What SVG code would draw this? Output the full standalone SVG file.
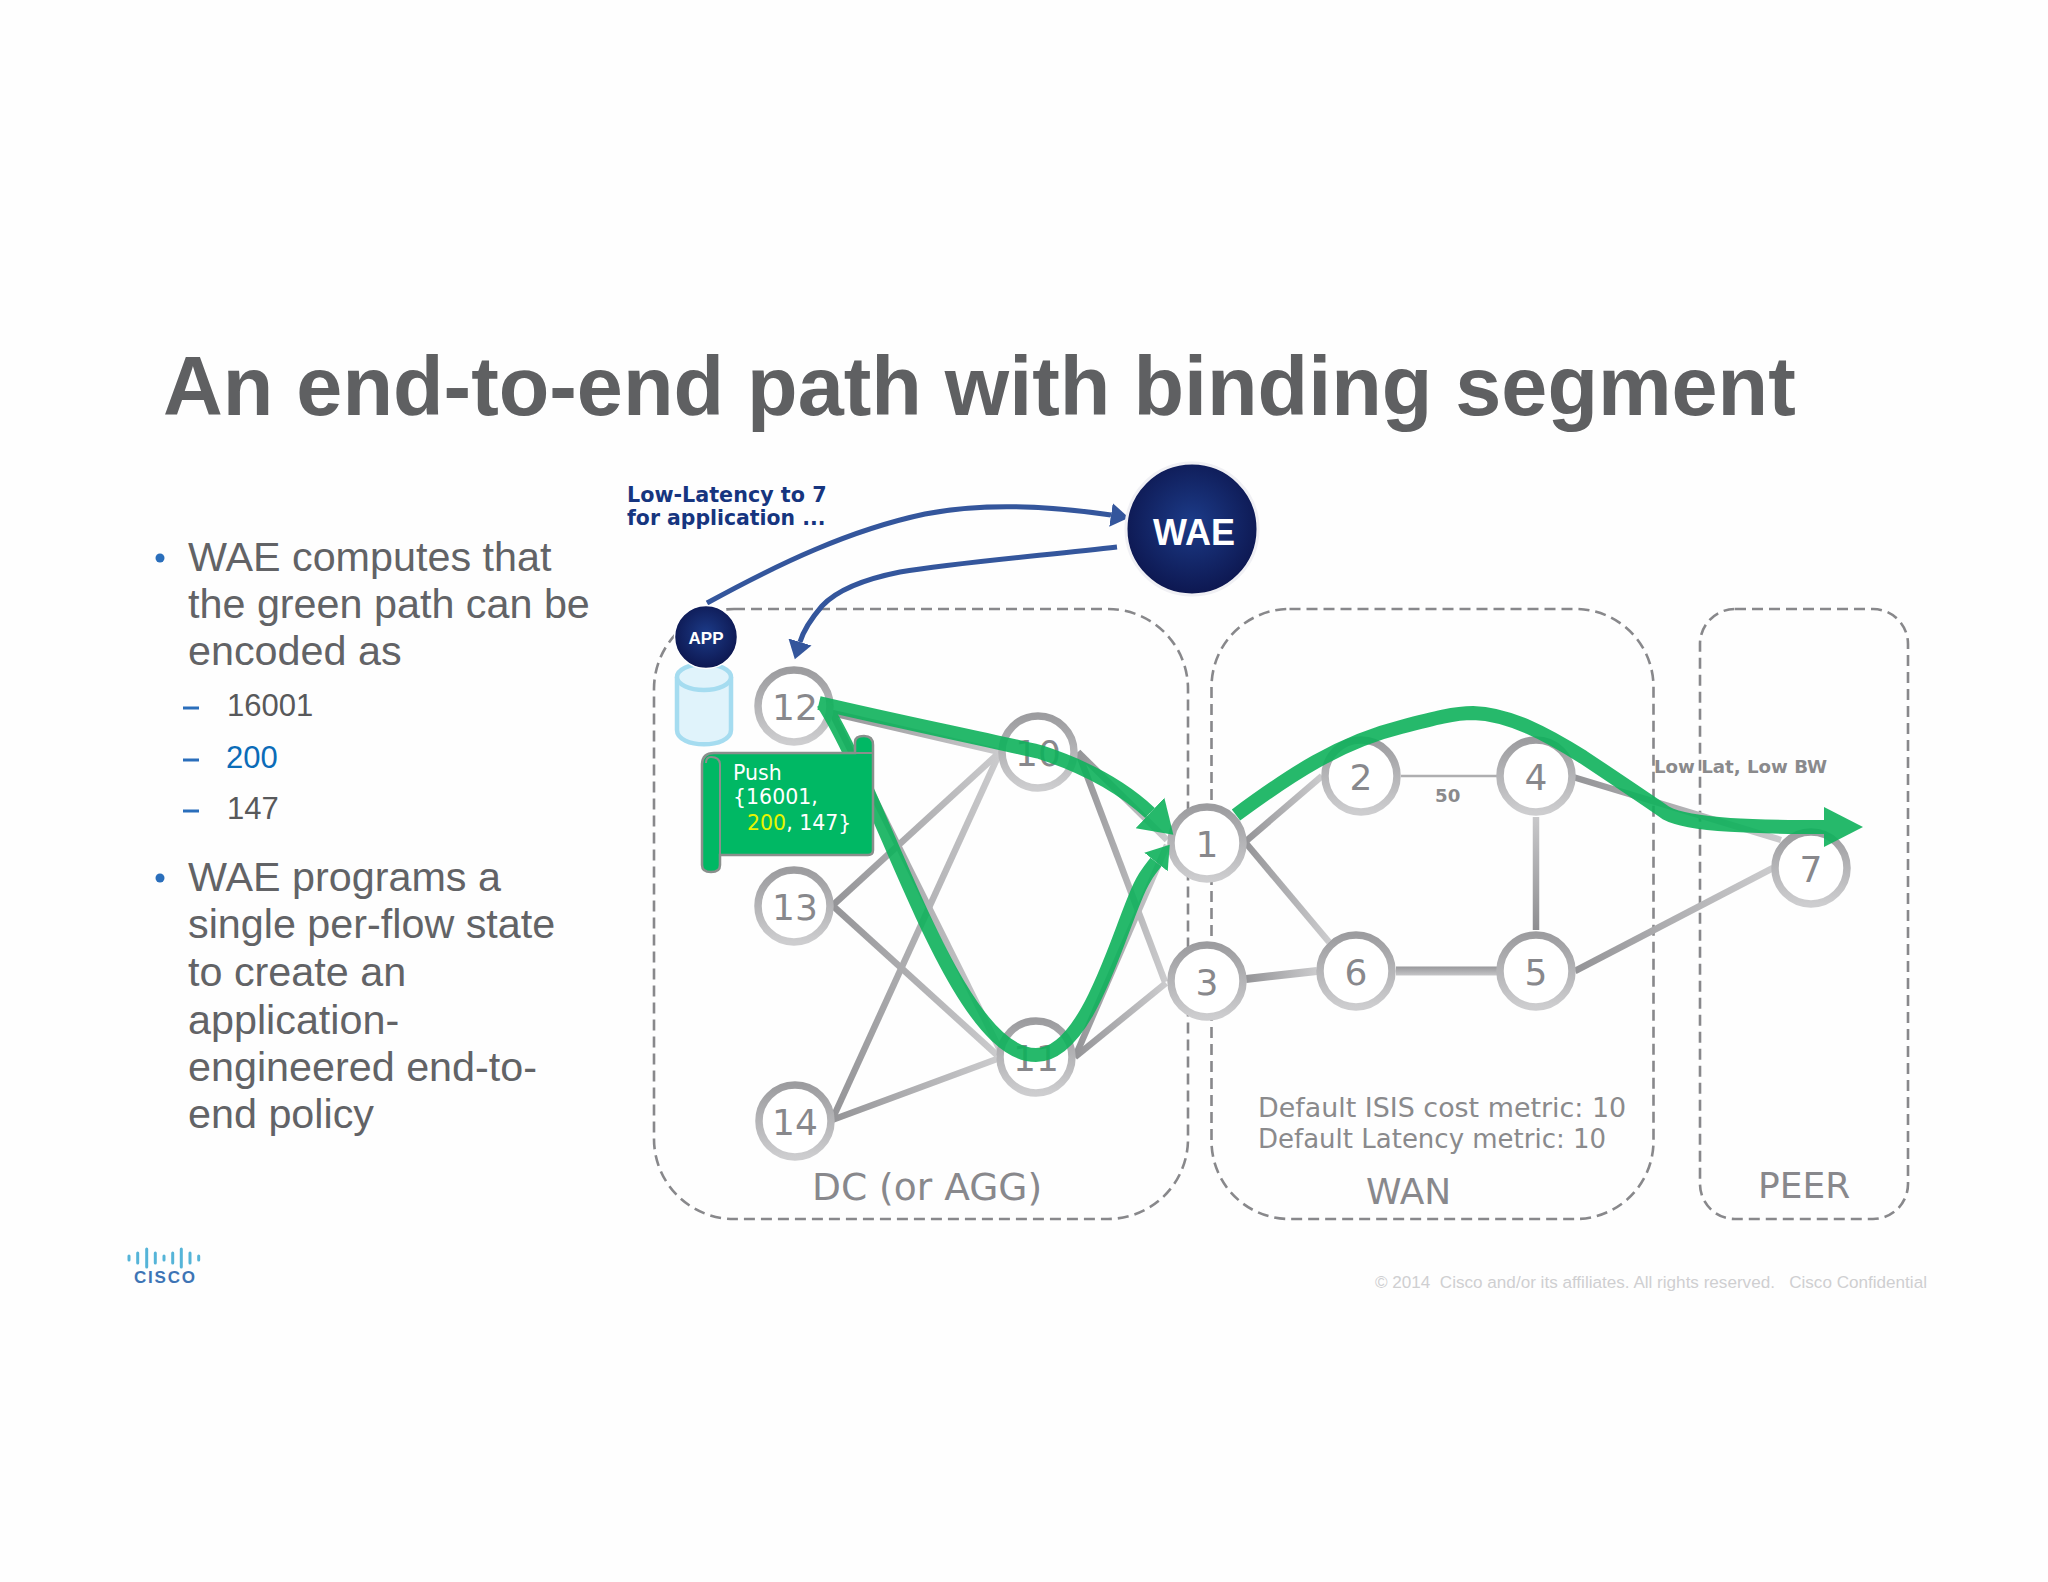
<svg xmlns="http://www.w3.org/2000/svg" width="2048" height="1582" viewBox="0 0 2048 1582">
<style>
text{font-family:"Liberation Sans",Arial,sans-serif}
.dv{font-family:"DejaVu Sans",Verdana,sans-serif}
.body{font-size:41.3px;fill:#626366}
.sub{font-size:31px;fill:#58595b}
.dash{stroke:#2a6ebb;stroke-width:3}
.bul{fill:#2a6ebb}
.zone{fill:none;stroke:#88888b;stroke-width:2.6;stroke-dasharray:11 6}
.zlabel{font-size:36px;fill:#88888c}
.ring{fill:#fff;stroke:url(#ringG);stroke-width:7.5}
.num{font-size:36px;fill:#88888c;text-anchor:middle}
.link{fill:none;stroke:url(#linkG);stroke-width:6.5}
.blue{fill:none;stroke:#34569c;stroke-width:5}
.green{fill:none;stroke:#0fb25c;stroke-width:14}
.note{font-size:26px;fill:#8a8a8c}
.small{font-size:18.200px;font-weight:bold;fill:#8a8a8c}
.push{font-size:20.5px;fill:#fff}
.bar{stroke:#55b4d8;stroke-width:3;stroke-linecap:round}
</style>
<defs>
<linearGradient id="ringG" x1="0" y1="0" x2="0" y2="1"><stop offset="0" stop-color="#9c9c9f"/><stop offset="1" stop-color="#cdcdcf"/></linearGradient>
<linearGradient id="linkG" x1="0" y1="0" x2="1" y2="0"><stop offset="0" stop-color="#949497"/><stop offset="1" stop-color="#cbcbcd"/></linearGradient>
<linearGradient id="vG" gradientUnits="userSpaceOnUse" x1="0" y1="817" x2="0" y2="930"><stop offset="0" stop-color="#c8c8ca"/><stop offset="1" stop-color="#8e8e91"/></linearGradient>
<linearGradient id="hG" gradientUnits="userSpaceOnUse" x1="0" y1="966" x2="0" y2="976"><stop offset="0" stop-color="#959598"/><stop offset="1" stop-color="#c8c8ca"/></linearGradient>
<radialGradient id="navy" cx="0.5" cy="0.45" r="0.55"><stop offset="0" stop-color="#1c3b88"/><stop offset="1" stop-color="#0d1750"/></radialGradient>
<marker id="blueHead" markerUnits="userSpaceOnUse" markerWidth="24" markerHeight="26" refX="0" refY="13" orient="auto"><path d="M0,1 L18,13 L0,25 Z" fill="#34569c"/></marker>
<marker id="headA" markerUnits="userSpaceOnUse" markerWidth="34" markerHeight="44" refX="0" refY="22" orient="auto"><path d="M0,1 L32,22 L0,43 Z" fill="#0fb25c"/></marker>
<marker id="headB" markerUnits="userSpaceOnUse" markerWidth="24" markerHeight="32" refX="0" refY="16" orient="auto"><path d="M0,1 L22,16 L0,31 Z" fill="#0fb25c"/></marker>
<marker id="headC" markerUnits="userSpaceOnUse" markerWidth="42" markerHeight="42" refX="0" refY="21" orient="auto"><path d="M0,1 L39,21 L0,41 Z" fill="#0fb25c"/></marker>
</defs>
<rect width="2048" height="1582" fill="#fefefe"/>
<text x="163" y="415" font-size="82.8" font-weight="bold" fill="#5f6062">An end-to-end path with binding segment</text>

<g id="bullets">
<circle class="bul" cx="160" cy="558" r="4.5"/>
<text class="body" x="188" y="571">WAE computes that</text>
<text class="body" x="188" y="618">the green path can be</text>
<text class="body" x="188" y="665">encoded as</text>
<path class="dash" d="M183,708H199M183,760H199M183,811H199"/>
<text class="sub" x="227" y="716">16001</text>
<text class="sub" x="226" y="768" style="fill:#0b6cb8">200</text>
<text class="sub" x="227" y="819">147</text>
<circle class="bul" cx="160" cy="878" r="4.5"/>
<text class="body" x="188" y="891">WAE programs a</text>
<text class="body" x="188" y="938">single per-flow state</text>
<text class="body" x="188" y="986">to create an</text>
<text class="body" x="188" y="1034">application-</text>
<text class="body" x="188" y="1081">engineered end-to-</text>
<text class="body" x="188" y="1128">end policy</text>
</g>

<g id="zones">
<rect class="zone" x="654" y="609" width="534" height="610" rx="80" ry="80"/>
<rect class="zone" x="1211.5" y="609" width="442" height="610" rx="78" ry="78"/>
<rect class="zone" x="1700" y="609" width="208" height="610" rx="35" ry="35"/>
<text class="zlabel dv" x="812" y="1200" style="font-size:37.600px">DC (or AGG)</text>
<text class="zlabel dv" x="1366" y="1204">WAN</text>
<text class="zlabel dv" x="1758" y="1198">PEER</text>
<text class="note dv" x="1258" y="1117" style="font-size:26.900px">Default ISIS cost metric: 10</text>
<text class="note dv" x="1258" y="1148">Default Latency metric: 10</text>
<text class="small dv" x="1654" y="773">Low Lat, Low BW</text>
<text class="small dv" x="1435" y="802">50</text>
</g>

<g id="connectors">
<line class="link" x1="832" y1="713" x2="1000" y2="752"/>
<line class="link" x1="832" y1="713" x2="1000" y2="1050"/>
<line class="link" x1="832" y1="906" x2="1000" y2="752"/>
<line class="link" x1="832" y1="905" x2="997" y2="1055"/>
<line class="link" x1="832" y1="1120" x2="1000" y2="752"/>
<line class="link" x1="832" y1="1120" x2="997" y2="1059"/>
<line class="link" x1="1078" y1="752" x2="1167" y2="840"/>
<line class="link" x1="1078" y1="752" x2="1165" y2="982"/>
<line class="link" x1="1075" y1="1057" x2="1167" y2="845"/>
<line class="link" x1="1075" y1="1057" x2="1166" y2="983"/>
<line class="link" x1="1245" y1="842" x2="1322" y2="776"/>
<line class="link" x1="1245" y1="842" x2="1329" y2="942"/>
<line x1="1401" y1="776" x2="1497" y2="776" stroke="#aeaeb0" stroke-width="2.5"/>
<line x1="1536" y1="817" x2="1536" y2="930" stroke="url(#vG)" stroke-width="6.5"/>
<line x1="1396" y1="971" x2="1497" y2="971" stroke="url(#hG)" stroke-width="9"/>
<line class="link" x1="1246" y1="979" x2="1317" y2="971" style="stroke-width:8"/>
<line class="link" x1="1573" y1="777" x2="1781" y2="840"/>
<line class="link" x1="1575" y1="971" x2="1773" y2="868"/>
<path class="blue" d="M707,603 C780,563 850,530 925,514 C985,502 1050,506 1111,515" marker-end="url(#blueHead)"/>
<path class="blue" d="M1117,547 C1050,555 960,562 900,572 C860,580 835,592 822,606 C810,620 803,632 800,642" marker-end="url(#blueHead)"/>
</g>

<g id="db">
<path d="M677,677 V730 C677,749 731,749 731,730 V677" fill="#e0f3fb" stroke="#a5dcf0" stroke-width="4.5"/>
<ellipse cx="704" cy="677" rx="27" ry="13" fill="#e0f3fb" stroke="#a5dcf0" stroke-width="4.5"/>
</g>
<g id="app">
<circle cx="706" cy="637" r="31.5" fill="url(#navy)" stroke="#fff" stroke-width="1.5"/>
<text x="706" y="644" font-size="17" font-weight="bold" fill="#fff" text-anchor="middle">APP</text>
</g>
<g id="wae">
<circle cx="1192" cy="529" r="66" fill="url(#navy)" stroke="#f0f0f4" stroke-width="3"/>
<text x="1194" y="545" font-size="36" font-weight="bold" fill="#fff" text-anchor="middle">WAE</text>
</g>
<text x="627" y="502" class="dv" font-size="20.700" font-weight="bold" fill="#16357f">Low-Latency to 7</text>
<text x="627" y="525" class="dv" font-size="20.400" font-weight="bold" fill="#16357f">for application ...</text>

<g id="n12"><circle class="ring" cx="794" cy="706" r="36"/><text class="num dv" x="795" y="720">12</text></g>
<g id="n13"><circle class="ring" cx="794" cy="906" r="36"/><text class="num dv" x="795" y="920">13</text></g>
<g id="n14"><circle class="ring" cx="795" cy="1121" r="36"/><text class="num dv" x="795" y="1135">14</text></g>
<g id="n10"><circle class="ring" cx="1038" cy="752" r="36"/><text class="num dv" x="1038" y="766">10</text></g>
<g id="n11"><circle class="ring" cx="1036" cy="1057" r="36"/><text class="num dv" x="1036" y="1071">11</text></g>
<g id="n1"><circle class="ring" cx="1207" cy="843" r="36"/><text class="num dv" x="1207" y="857">1</text></g>
<g id="n3"><circle class="ring" cx="1207" cy="981" r="36"/><text class="num dv" x="1207" y="995">3</text></g>
<g id="n2"><circle class="ring" cx="1361" cy="776" r="36"/><text class="num dv" x="1361" y="790">2</text></g>
<g id="n4"><circle class="ring" cx="1536" cy="776" r="36"/><text class="num dv" x="1536" y="790">4</text></g>
<g id="n6"><circle class="ring" cx="1356" cy="971" r="36"/><text class="num dv" x="1356" y="985">6</text></g>
<g id="n5"><circle class="ring" cx="1536" cy="971" r="36"/><text class="num dv" x="1536" y="985">5</text></g>
<g id="n7"><circle class="ring" cx="1811" cy="868" r="36"/><text class="num dv" x="1811" y="882">7</text></g>

<g id="green-path" opacity="0.9">
<path class="green" d="M819,703 C900,722 980,738 1040,752 C1080,765 1120,785 1150,813" marker-end="url(#headA)"/>
<path class="green" d="M823,703 C885,800 955,1055 1036,1055 C1085,1055 1115,945 1135,898 C1142,880 1148,872 1156,862" marker-end="url(#headB)"/>
<path class="green" d="M1236,815 C1290,775 1340,742 1401,727 C1435,718 1455,713 1473,713 C1510,714 1548,735 1583,757 C1610,775 1640,795 1666,813 C1690,826 1760,827 1824,827" marker-end="url(#headC)"/>
</g>

<g id="push">
<path d="M702,765 Q702,753 714,753 H855 V742 Q855,736 864,736 Q873,736 873,745 V850 Q873,855 868,855 H720 V865 Q720,872 711,872 Q702,872 702,865 Z" fill="#00b864" stroke="#8a8f8c" stroke-width="2.5"/>
<path d="M720,855 V765 Q720,757 711,757 Q706,757 706,763" fill="none" stroke="#8a8f8c" stroke-width="2"/>
<path d="M855,753 H873" fill="none" stroke="#8a8f8c" stroke-width="2"/>
<text class="push dv" x="733" y="780">Push</text>
<text class="push dv" x="733" y="804">{16001,</text>
<text class="push dv" x="747" y="830"><tspan fill="#e8f500">200</tspan>, 147}</text>
</g>

<g id="logo">
<path class="bar" d="M129,1256V1260M137.700,1253V1263M146.700,1249V1267M155.300,1253V1263M164,1256V1260M172.700,1253V1263M181.300,1249V1267M190,1253V1263M198.700,1256V1260"/>
<text x="134" y="1283" font-size="17" font-weight="bold" letter-spacing="1.800" fill="#3d74b5">CISCO</text>
</g>
<text x="1375" y="1288" font-size="17.100" fill="#cfcfd1" xml:space="preserve" style="white-space:pre">© 2014  Cisco and/or its affiliates. All rights reserved.   Cisco Confidential</text>
</svg>
